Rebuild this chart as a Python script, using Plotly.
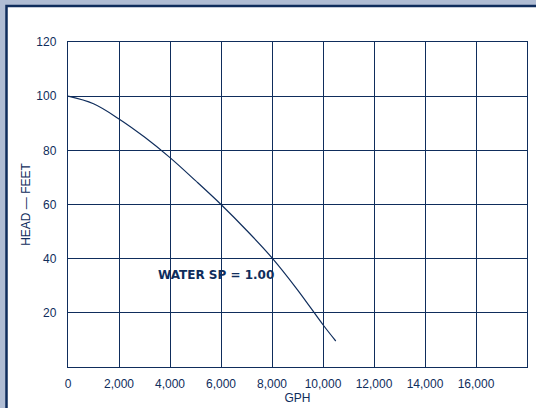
import plotly.graph_objects as go

# Data
flow_gph = [0, 1000, 2000, 3000, 4000, 5000, 6000, 7000, 8000, 9000, 10000, 10500]
head_feet = [100, 97.2, 91.6, 84.9, 77.3, 68.8, 60.0, 50.5, 40.3, 28.5, 15.6, 9.6]

x_tick_vals = [0, 2000, 4000, 6000, 8000, 10000, 12000, 14000, 16000]
x_tick_text = ["0", "2,000", "4,000", "6,000", "8,000", "10,000", "12,000", "14,000", "16,000"]
y_tick_vals = [20, 40, 60, 80, 100, 120]
y_tick_text = ["20", "40", "60", "80", "100", "120"]

NAVY = "#0f2d5c"
FRAME_BG = "#b0bdd4"
FONT = "Liberation Sans"

W, H = 536, 408
L, R, T, B = 68, 9, 42, 41
pw, ph = W - L - R, H - T - B


def px_x(p):
    return (p - L) / pw


def px_y(p):
    return (H - B - p) / ph


fig = go.Figure()
fig.add_trace(go.Scatter(
    x=flow_gph, y=head_feet, mode="lines",
    line=dict(color=NAVY, width=1.2, shape="spline", smoothing=1.0),
    hoverinfo="skip", showlegend=False,
))

fig.add_annotation(
    x=3470, y=34, xref="x", yref="y", xanchor="left", yanchor="middle",
    text="<b>WATER SP = 1.00</b>", showarrow=False,
    font=dict(family="DejaVu Sans", size=12, color=NAVY),
)

# frame: white panel with navy border over light blue paper
fig.add_shape(
    type="rect", xref="paper", yref="paper", layer="below",
    x0=px_x(6.5), x1=px_x(W + 20), y0=px_y(H + 20), y1=px_y(6),
    fillcolor="white", line=dict(color=NAVY, width=2.5),
)

fig.update_layout(
    width=W, height=H,
    margin=dict(l=L, r=R, t=T, b=B, autoexpand=False),
    paper_bgcolor=FRAME_BG, plot_bgcolor="white",
    font=dict(family=FONT, size=12, color=NAVY),
    xaxis=dict(
        range=[0, 18000], tickvals=x_tick_vals, ticktext=x_tick_text,
        showgrid=True, gridcolor=NAVY, gridwidth=1,
        showline=True, linecolor=NAVY, linewidth=1.2, mirror=True,
        ticks="outside", ticklen=5, tickcolor="rgba(0,0,0,0)",
        zeroline=False, fixedrange=True, automargin=False,
        title=dict(text="GPH", font=dict(size=12, color=NAVY), standoff=4),
    ),
    yaxis=dict(
        range=[0, 120], tickvals=y_tick_vals, ticktext=y_tick_text,
        showgrid=True, gridcolor=NAVY, gridwidth=1,
        showline=True, linecolor=NAVY, linewidth=1.2, mirror=True,
        ticks="outside", ticklen=8, tickcolor="rgba(0,0,0,0)",
        zeroline=False, fixedrange=True, automargin=False,
        title=dict(text="HEAD — FEET", font=dict(size=12, color=NAVY), standoff=3),
    ),
)

fig.write_html(
    "out.html",
    config={"displayModeBar": False, "staticPlot": True},
    post_script="document.body.style.margin='0';document.body.style.background='" + FRAME_BG + "';",
)
